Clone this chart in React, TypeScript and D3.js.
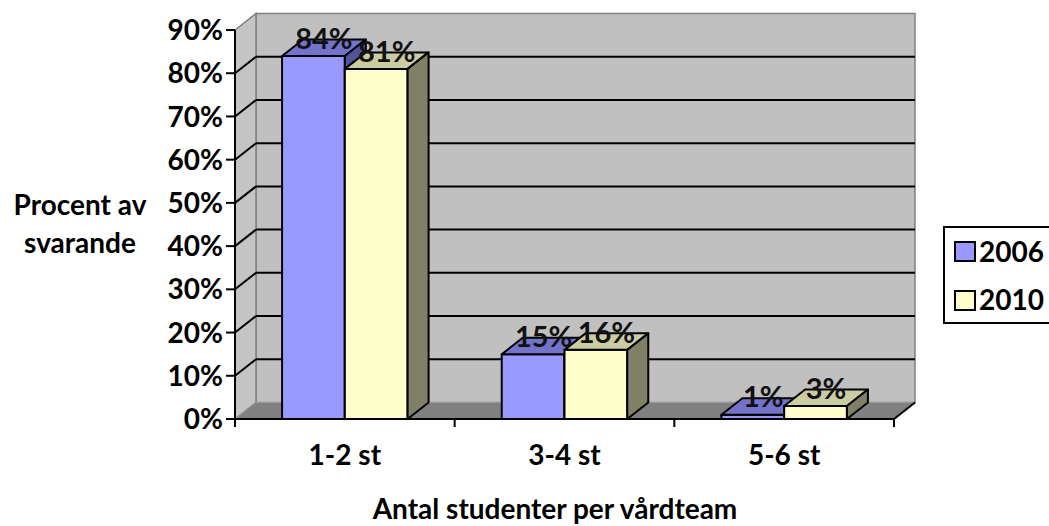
import React from 'react';
import * as d3 from 'd3';

const categories = ['1-2 st', '3-4 st', '5-6 st'];
const seriesNames = ['2006', '2010'];
const values2006 = [0.84, 0.15, 0.01];
const values2010 = [0.81, 0.16, 0.03];
const yTicks = [0, 0.1, 0.2, 0.3, 0.4, 0.5, 0.6, 0.7, 0.8, 0.9];
const dataLabels2006 = ['84%', '15%', '1%'];
const dataLabels2010 = ['81%', '16%', '3%'];

const W = 1049;
const H = 526;
const FONT = 'Lato, Carlito, Calibri, sans-serif';

// 3D depth offset of the plot box
const DX = 21;
const DY = -16.5;

const palette = [
  { front: '#9999FF', top: '#7373CC', side: '#52529E' },
  { front: '#FFFFCC', top: '#CCCCA3', side: '#808066' },
];

const App: React.FC = () => {
  const x = d3.scaleBand<string>().domain(categories).range([235, 894]).paddingInner(0).paddingOuter(0);
  const y = d3.scaleLinear().domain([0, 0.9]).range([419, 30]);
  const pct = d3.format('.0%');

  const bw = x.bandwidth() / 3.5; // gap width 150%
  const y0 = y(0);
  const x0 = x.range()[0];
  const x1 = x.range()[1];
  const yTop = y(0.9);

  const series = [values2006, values2010];
  const labels = [dataLabels2006, dataLabels2010];

  const pts = (p: [number, number][]) => p.map((d) => d.join(',')).join(' ');

  return (
    <svg width={W} height={H} style={{ position: 'absolute', left: 0, top: 0 }} fontFamily={FONT} fontWeight="bold">
      <rect width={W} height={H} fill="#fff" />

      {/* back wall */}
      <rect x={x0 + DX} y={yTop + DY} width={x1 - x0} height={y0 - yTop} fill="#C0C0C0" stroke="#808080" strokeWidth={1.5} />
      {/* side wall */}
      <polygon
        points={pts([[x0, y0], [x0 + DX, y0 + DY], [x0 + DX, yTop + DY], [x0, yTop]])}
        fill="#C4C4C4"
        stroke="#808080"
        strokeWidth={1.5}
      />

      {/* gridlines */}
      {yTicks.filter((t) => t > 0 && t < 0.9).map((t) => (
        <g key={t}>
          <line x1={x0} y1={y(t)} x2={x0 + DX} y2={y(t) + DY} stroke="#000" strokeWidth={2} />
          <line x1={x0 + DX} y1={y(t) + DY} x2={x1 + DX} y2={y(t) + DY} stroke="#000" strokeWidth={2} />
        </g>
      ))}

      {/* floor */}
      <polygon
        points={pts([[x0, y0], [x0 + DX, y0 + DY], [x1 + DX, y0 + DY], [x1, y0]])}
        fill="#808080"
        stroke="#999"
        strokeWidth={1}
      />
      <line x1={x1} y1={y0} x2={x1 + DX} y2={y0 + DY} stroke="#000" strokeWidth={2} />

      {/* bars */}
      {categories.map((c, i) => (
        <g key={c}>
          {series.map((vals, s) => {
            const bx = (x(c) as number) + bw * (0.75 + s);
            const by = y(vals[i]);
            const col = palette[s];
            return (
              <g key={s} stroke="#000" strokeWidth={2} strokeLinejoin="round">
                <rect x={bx} y={by} width={bw} height={y0 - by} fill={col.front} />
                <polygon points={pts([[bx, by], [bx + DX, by + DY], [bx + bw + DX, by + DY], [bx + bw, by]])} fill={col.top} />
                <polygon points={pts([[bx + bw, by], [bx + bw + DX, by + DY], [bx + bw + DX, y0 + DY], [bx + bw, y0]])} fill={col.side} />
              </g>
            );
          })}
        </g>
      ))}

      {/* axes */}
      <line x1={x0} y1={yTop} x2={x0} y2={y0} stroke="#000" strokeWidth={2} />
      <line x1={x0} y1={y0} x2={x1} y2={y0} stroke="#000" strokeWidth={2} />
      {yTicks.map((t) => (
        <g key={t}>
          <line x1={x0 - 9} y1={y(t)} x2={x0} y2={y(t)} stroke="#000" strokeWidth={2} />
          <text x={x0 - 12} y={y(t)} dy="0.36em" textAnchor="end" fontSize={28}>
            {pct(t)}
          </text>
        </g>
      ))}
      {[...categories.map((c) => x(c) as number), x1].map((tx, i) => (
        <line key={i} x1={tx} y1={y0} x2={tx} y2={y0 + 8} stroke="#000" strokeWidth={2} />
      ))}
      {categories.map((c) => (
        <text key={c} x={(x(c) as number) + x.bandwidth() / 2} y={465} textAnchor="middle" fontSize={28}>
          {c}
        </text>
      ))}

      {/* data labels */}
      {categories.map((c, i) =>
        series.map((vals, s) => {
          const bx = (x(c) as number) + bw * (0.75 + s);
          const by = y(vals[i]);
          return (
            <text key={c + s} x={bx + bw / 2 + DX / 2} y={by + DY / 2 + 1} textAnchor="middle" fontSize={29} fill="#111">
              {labels[s][i]}
            </text>
          );
        })
      )}

      {/* axis titles */}
      <text x={80} y={215} textAnchor="middle" fontSize={28}>Procent av</text>
      <text x={80} y={253} textAnchor="middle" fontSize={28}>svarande</text>
      <text x={555} y={519} textAnchor="middle" fontSize={28}>Antal studenter per vårdteam</text>

      {/* legend */}
      <rect x={944} y={227} width={130} height={96} fill="#fff" stroke="#000" strokeWidth={2} />
      {seriesNames.map((n, s) => (
        <g key={n}>
          <rect x={955} y={242 + s * 49} width={20} height={19} fill={palette[s].front} stroke="#000" strokeWidth={2} />
          <text x={979} y={262 + s * 48} fontSize={28}>{n}</text>
        </g>
      ))}
    </svg>
  );
};

export default App;
